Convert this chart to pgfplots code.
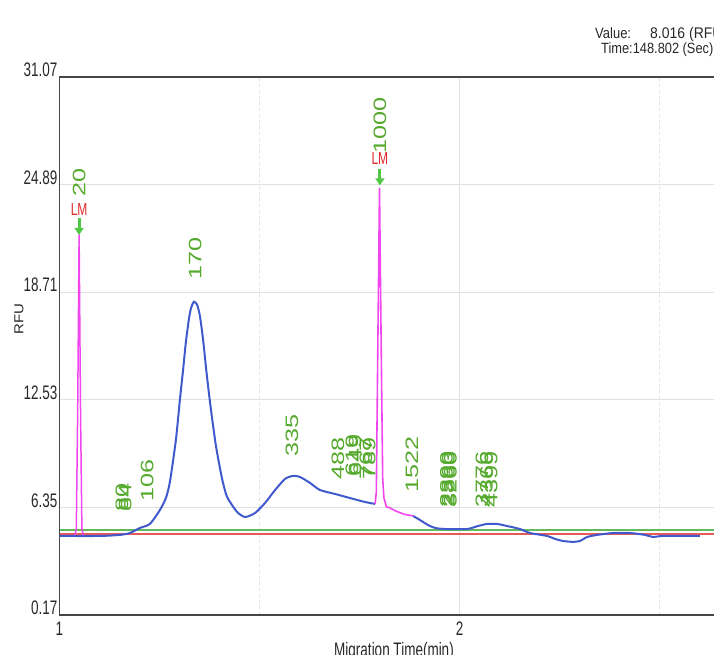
\documentclass[border=0pt]{standalone}
\usepackage{graphicx}
\usepackage{pgfplots}
\pgfplotsset{compat=1.18}
\usepackage{fontspec}
\setmainfont{Liberation Sans}
\usetikzlibrary{arrows.meta}

\definecolor{trace}{RGB}{64,90,205}
\definecolor{lmpink}{RGB}{240,70,240}
\definecolor{baseg}{RGB}{100,185,90}
\definecolor{basered}{RGB}{230,90,90}
\definecolor{labg}{RGB}{85,170,45}
\definecolor{lmred}{RGB}{225,40,40}
\definecolor{arrg}{RGB}{80,200,70}
\definecolor{gridgray}{RGB}{225,225,225}
\definecolor{framegray}{RGB}{70,70,70}
\definecolor{txt}{RGB}{40,40,40}

% text in the reference is stretched vertically
\newcommand\tl[1]{\scalebox{1}[1.45]{#1}}
\newcommand\pkfont{\fontsize{18}{18}\selectfont}
\newcommand\pklab[3]{\node[rotate=90,anchor=west,inner sep=0pt,text=labg,font=\pkfont] at (axis cs:#1,#2) {\scalebox{1.4}[1]{#3}};}
\newcommand\lm[2]{\node[text=lmred,inner sep=0pt,font=\fontsize{12}{12}\selectfont] at (axis cs:#1,#2) {\scalebox{1}[1.45]{LM}};}

\begin{document}
\begin{tikzpicture}[x=1pt,y=1pt]
\useasboundingbox (0,0) rectangle (714,654);
\clip (0,0) rectangle (714,654);
\begin{axis}[
    at={(59.5pt,39pt)}, anchor=south west,
    scale only axis,
    width=680pt, height=538pt,
    xmin=1, xmax=2.7,
    ymin=0.17, ymax=31.07,
    xtick={1,2}, minor xtick={1.5,2.5},
    xticklabels={\tl{1},\tl{2}},
    ytick={0.17,6.35,12.53,18.71,24.89,31.07},
    yticklabels={\tl{0.17},\tl{6.35},\tl{12.53},\tl{18.71},\tl{24.89},\tl{31.07}},
    major tick length=0pt, minor tick length=0pt,
    ymajorgrids, xmajorgrids, xminorgrids,
    major grid style={gridgray, line width=0.9pt},
    minor grid style={gridgray, dashed, line width=0.9pt},
    axis line style={framegray, line width=1.6pt},
    tick label style={font=\fontsize{13.5}{14}\selectfont, text=txt},
    yticklabel style={anchor=south east, inner sep=0pt, xshift=-2pt},
    xticklabel style={anchor=north, inner sep=0pt, yshift=-7pt},
]
% baselines
\addplot[baseg, line width=2.5pt] coordinates {(1,5.06) (2.7,5.06)};
\addplot[basered, line width=1.5pt] coordinates {(1,4.81) (2.7,4.81)};

% sample trace
\addplot[trace, line width=2pt, smooth, tension=0.4] coordinates {
(1.000,4.71) (1.101,4.71) (1.151,4.77) (1.176,4.88) (1.201,5.17)
(1.226,5.40) (1.251,6.20) (1.266,6.89) (1.276,7.81) (1.291,10.23)
(1.301,12.53) (1.309,14.25) (1.316,15.86) (1.324,17.24) (1.329,17.81)
(1.336,18.16) (1.344,17.99) (1.351,17.35) (1.359,15.97) (1.369,13.80)
(1.379,11.90) (1.391,9.90) (1.406,8.04) (1.419,6.95) (1.444,6.09)
(1.464,5.80) (1.489,6.03) (1.514,6.61) (1.539,7.35) (1.564,7.99)
(1.584,8.16) (1.601,8.10) (1.626,7.76) (1.651,7.35) (1.689,7.12)
(1.726,6.89) (1.764,6.66) (1.789,6.55)
};
\addplot[trace, line width=2pt, smooth, tension=0.4] coordinates {
(1.884,5.86) (1.901,5.63) (1.921,5.34) (1.939,5.17) (1.964,5.11)
(2.019,5.11) (2.046,5.28) (2.069,5.40) (2.094,5.40) (2.119,5.28)
(2.151,5.11) (2.176,4.88) (2.219,4.71) (2.239,4.54) (2.259,4.42)
(2.284,4.37) (2.301,4.42) (2.319,4.65) (2.344,4.77) (2.384,4.88)
(2.426,4.88) (2.464,4.77) (2.484,4.65) (2.509,4.71) (2.601,4.71)
};

% marker peaks
\addplot[lmpink, line width=1.5pt] coordinates {
(1.038,4.75) (1.042,5.1) (1.0455,12.0) (1.049,22.03) (1.0525,12.0) (1.056,5.1) (1.060,4.75)
};
\addplot[lmpink, line width=1.6pt] coordinates {
(1.789,6.55) (1.792,7.2) (1.796,16.0) (1.800,24.7) (1.804,16.0) (1.808,8.0)
(1.811,6.9) (1.8175,6.38) (1.825,6.33) (1.840,6.15) (1.8625,5.95) (1.884,5.86)
};

% peak labels
\pklab{1.049}{24.22}{20}
\pklab{1.156}{6.10}{80}
\pklab{1.164}{6.10}{84}
\pklab{1.219}{6.67}{106}
\pklab{1.339}{19.45}{170}
\pklab{1.581}{9.26}{335}
\pklab{1.696}{7.94}{488}
\pklab{1.731}{8.11}{619}
\pklab{1.739}{8.11}{649}
\pklab{1.766}{7.94}{767}
\pklab{1.774}{7.94}{789}
\pklab{1.801}{26.64}{1000}
\pklab{1.881}{7.19}{1522}
\pklab{1.9675}{6.33}{2390}
\pklab{1.9725}{6.33}{2863}
\pklab{1.9775}{6.33}{3260}
\pklab{2.056}{6.33}{3776}
\pklab{2.0675}{6.33}{4366}
\pklab{2.079}{6.33}{4399}

\lm{1.049}{23.47}
\lm{1.801}{26.41}
\draw[arrg, line width=3pt, -{Triangle[width=9pt,length=7pt]}] (axis cs:1.049,22.95) -- (axis cs:1.049,22.0);
\draw[arrg, line width=3pt, -{Triangle[width=9pt,length=7pt]}] (axis cs:1.801,25.8) -- (axis cs:1.801,24.85);
\end{axis}

\node[rotate=90, text=txt, inner sep=0pt, font=\fontsize{13}{13}\selectfont] at (19,335) {\scalebox{1.15}[1]{RFU}};
\node[anchor=north, text=txt, inner sep=0pt, font=\fontsize{13.5}{14}\selectfont] at (394,12) {\tl{Migration Time(min)}};
\begin{scope}[every node/.style={anchor=base west, text=txt, inner sep=0pt}]
\node[font=\fontsize{13}{13}\selectfont] at (595,615) {\scalebox{1}[1.15]{Value:}};
\node[font=\fontsize{14}{14}\selectfont] at (650,615) {\scalebox{1}[1.1]{8.016 (RFU)}};
\node[font=\fontsize{13.5}{13.5}\selectfont] at (601,600.5) {\scalebox{0.95}[1.1]{Time:148.802 (Sec)}};
\end{scope}
\end{tikzpicture}
\end{document}
